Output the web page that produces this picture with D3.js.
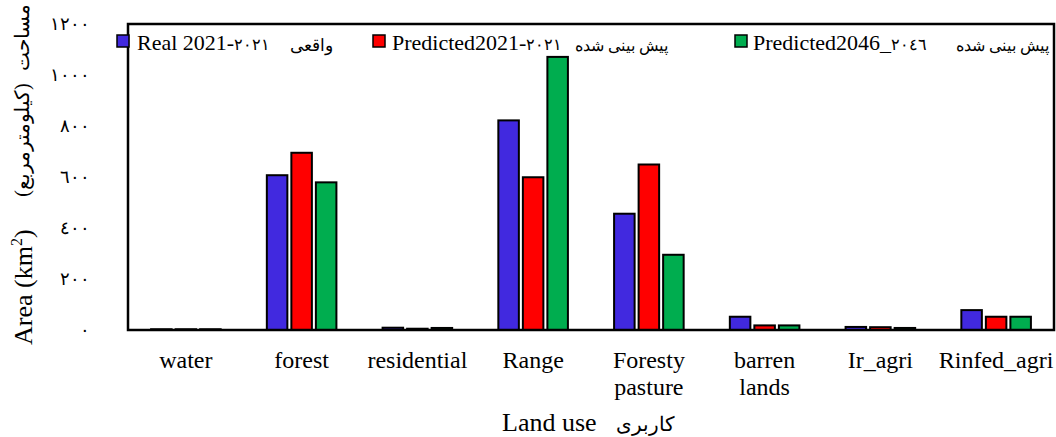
<!DOCTYPE html>
<html>
<head>
<meta charset="utf-8">
<script src="https://cdn.jsdelivr.net/npm/d3@7"></script>
<style>
  body{margin:0;background:#fff;}
  text{font-family:"Liberation Serif","Times New Roman",serif;fill:#000;}
</style>
</head>
<body>
<div class="chart"></div>
<script>
// data
const categories=['water','forest','residential','Range','Foresty pasture','barren lands','Ir_agri','Rinfed_agri'];
const series=['real2021','pred2021','pred2046'];
const real2021=[3,607,9,822,456,52,12,78];
const pred2021=[3,695,5,599,649,18,11,52];
const pred2046=[3,579,8,1071,295,18,8,52];
const yTicks=[0,200,400,600,800,1000,1200];
const colors=['#4129DF','#FF0000','#00AD4F'];

const W=1056,H=437;
const m={top:24,right:2,bottom:107,left:128};

const svg=d3.select('.chart').append('svg').attr('width',W).attr('height',H);

const x0=d3.scaleBand().domain(categories).range([m.left,W-m.right]).paddingInner(0).paddingOuter(0);
const x1=d3.scaleBand().domain(series).range([-36.75,36.75]).paddingInner(0.163).paddingOuter(0.08);
const y=d3.scaleLinear().domain([0,1200]).range([H-m.bottom,m.top]);

const table=categories.map((c,i)=>({cat:c,vals:[real2021[i],pred2021[i],pred2046[i]]}));

// bars
const groups=svg.selectAll('.grp').data(table).enter().append('g')
  .attr('class','grp')
  .attr('transform',d=>`translate(${x0(d.cat)+x0.bandwidth()/2},0)`);
groups.selectAll('rect').data(d=>d.vals.map((v,k)=>({s:series[k],v:v,k:k}))).enter()
  .append('rect')
  .attr('x',d=>x1(d.s)).attr('width',x1.bandwidth())
  .attr('y',d=>y(d.v)).attr('height',d=>y(0)-y(d.v))
  .style('fill',d=>colors[d.k]).style('stroke','#000').style('stroke-width',2);

// frame
svg.append('rect').attr('x',m.left).attr('y',m.top)
  .attr('width',W-m.right-m.left).attr('height',H-m.bottom-m.top)
  .style('fill','none').style('stroke','#000').style('stroke-width',2.5);

// y axis with arabic-indic digits
const loc=d3.formatLocale({decimal:'.',thousands:'',grouping:[3],currency:['',''],
  numerals:['٠','١','٢','٣','٤','٥','٦','٧','٨','٩']});
const yAxis=d3.axisLeft(y).tickValues(yTicks).tickFormat(loc.format('d')).tickSize(0).tickPadding(38);
const yAxisDraw=svg.append('g').attr('transform',`translate(${m.left},0)`).call(yAxis);
yAxisDraw.select('.domain').remove();
yAxisDraw.selectAll('text').style('font-family','"Liberation Serif",serif').style('font-size','18px');

// x labels
const xl=svg.append('g');
table.forEach(d=>{
  const cx=x0(d.cat)+x0.bandwidth()/2;
  const t=xl.append('text').attr('text-anchor','middle').attr('x',cx).attr('y',368).style('font-size','24px');
  d.cat.split(' ').forEach((w,i)=>t.append('tspan').attr('x',cx).attr('dy',i?27:0).text(w));
});

// axis titles
svg.append('text').attr('x',502).attr('y',431).style('font-size','26px').text('Land use');
svg.append('text').attr('x',675).attr('y',431).attr('text-anchor','end').style('font-size','20px').text('کاربری');

const yt=svg.append('g').attr('transform','translate(32,0) rotate(-90)');
const a=yt.append('text').attr('x',-345).attr('y',0).style('font-size','26px');
a.append('tspan').text('Area (km');
a.append('tspan').attr('dy',-10).style('font-size','16px').text('2');
a.append('tspan').attr('dy',10).text(')');
yt.append('text').attr('x',-140).attr('y',-3).attr('text-anchor','middle').style('font-size','20px').text('(کیلومترمربع)');
yt.append('text').attr('x',-37).attr('y',-3).attr('text-anchor','middle').style('font-size','20px').text('مساحت');

// legend
const legendItems=[
  {sq:117,en:'Real 2021-',num:'٢٠٢١',enX:137,fa:'واقعی',faEnd:333,faSize:17},
  {sq:373,en:'Predicted2021-',num:'٢٠٢١',enX:392,fa:'پیش بینی شده',faEnd:668,faSize:16},
  {sq:735,en:'Predicted2046_',num:'٢٠٤٦',enX:753,fa:'پیش بینی شده',faEnd:1049,faSize:16}
];
const lg=svg.append('g');
legendItems.forEach((d,i)=>{
  lg.append('rect').attr('x',d.sq).attr('y',35).attr('width',12).attr('height',12)
    .style('fill',colors[i]).style('stroke','#000').style('stroke-width',1.5);
  const t=lg.append('text').attr('x',d.enX).attr('y',50).style('font-size','22px');
  t.append('tspan').text(d.en);
  t.append('tspan').style('font-size','16px').text(d.num);
  lg.append('text').attr('x',d.faEnd).attr('y',51).attr('text-anchor','end')
    .style('font-size',d.faSize+'px').text(d.fa);
});
</script>
</body>
</html>
